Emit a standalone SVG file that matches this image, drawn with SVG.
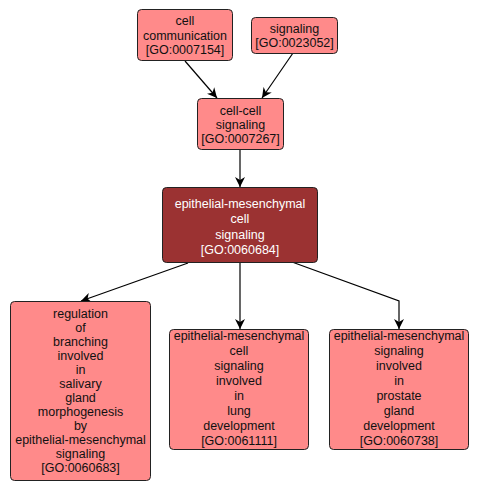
<svg xmlns="http://www.w3.org/2000/svg" width="479" height="490" viewBox="0 0 479 490">
<style>
.n{fill:#FF8A8A;stroke:#222;stroke-width:1}
.d{fill:#9B3232;stroke:#222;stroke-width:1}
text{font-family:"Liberation Sans",Arial,sans-serif;font-size:12.5px;text-anchor:middle;fill:#111}
.w{fill:#fff}
.e{fill:none;stroke:#000;stroke-width:1.2}
</style>
<defs>
<marker id="a" viewBox="0 0 10 10" refX="10" refY="5" markerWidth="10" markerHeight="10" markerUnits="userSpaceOnUse" orient="auto">
<path d="M0,0 L10,5 L0,10 L3,5 z" fill="#000"/>
</marker>
</defs>
<g id="edges">
<path class="e" d="M185,61 L217,98" marker-end="url(#a)"/>
<path class="e" d="M293,53 L262,98" marker-end="url(#a)"/>
<path class="e" d="M240,149 L240,187" marker-end="url(#a)"/>
<path class="e" d="M188,263 L81,301" marker-end="url(#a)"/>
<path class="e" d="M240,262 L240,329" marker-end="url(#a)"/>
<path class="e" d="M292,262 L399,301 L399,329" marker-end="url(#a)"/>
</g>
<g id="n7154">
<rect class="n" x="137.5" y="9.5" width="95" height="51" rx="4"/>
<text x="185" y="25">cell</text>
<text x="185" y="39.5">communication</text>
<text x="185" y="54">[GO:0007154]</text>
</g>
<g id="n23052">
<rect class="n" x="251.5" y="17.5" width="86" height="36" rx="4"/>
<text x="294.5" y="33">signaling</text>
<text x="294.5" y="47">[GO:0023052]</text>
</g>
<g id="n7267">
<rect class="n" x="197.5" y="98.5" width="86" height="51" rx="4"/>
<text x="240.5" y="115">cell-cell</text>
<text x="240.5" y="128.5">signaling</text>
<text x="240.5" y="142.5">[GO:0007267]</text>
</g>
<g id="n60684">
<rect class="d" x="162.5" y="187.5" width="155" height="75" rx="4"/>
<text class="w" x="240" y="207.5">epithelial-mesenchymal</text>
<text class="w" x="240" y="223">cell</text>
<text class="w" x="240" y="238.5">signaling</text>
<text class="w" x="240" y="254">[GO:0060684]</text>
</g>
<g id="n60683">
<rect class="n" x="10.5" y="301.5" width="140" height="179" rx="4"/>
<text x="80.5" y="317.5">regulation</text>
<text x="80.5" y="331.5">of</text>
<text x="80.5" y="345.5">branching</text>
<text x="80.5" y="359.5">involved</text>
<text x="80.5" y="373.5">in</text>
<text x="80.5" y="387.5">salivary</text>
<text x="80.5" y="401.5">gland</text>
<text x="80.5" y="415.5">morphogenesis</text>
<text x="80.5" y="429.5">by</text>
<text x="80.5" y="443.5">epithelial-mesenchymal</text>
<text x="80.5" y="457.5">signaling</text>
<text x="80.5" y="471.5">[GO:0060683]</text>
</g>
<g id="n61111">
<rect class="n" x="169.5" y="329.5" width="139" height="120" rx="4"/>
<text x="239" y="340">epithelial-mesenchymal</text>
<text x="239" y="355">cell</text>
<text x="239" y="370">signaling</text>
<text x="239" y="385">involved</text>
<text x="239" y="400">in</text>
<text x="239" y="415">lung</text>
<text x="239" y="430">development</text>
<text x="239" y="445">[GO:0061111]</text>
</g>
<g id="n60738">
<rect class="n" x="329.5" y="329.5" width="139" height="120" rx="4"/>
<text x="399" y="340">epithelial-mesenchymal</text>
<text x="399" y="355">signaling</text>
<text x="399" y="370">involved</text>
<text x="399" y="385">in</text>
<text x="399" y="400">prostate</text>
<text x="399" y="415">gland</text>
<text x="399" y="430">development</text>
<text x="399" y="445">[GO:0060738]</text>
</g>
</svg>
